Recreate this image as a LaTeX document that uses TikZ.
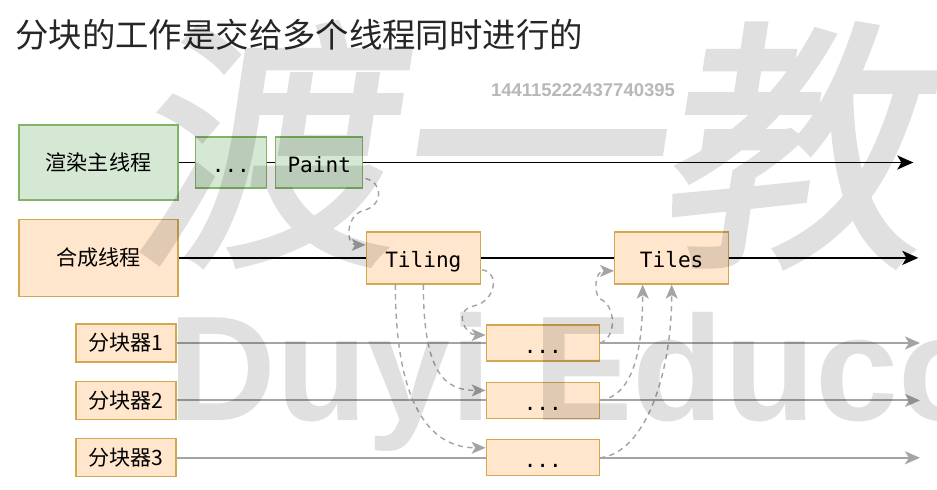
\documentclass[tikz,border=0pt]{standalone}
\usepackage{fontspec}
\setmainfont{Noto Sans CJK SC}
\setmonofont{DejaVu Sans Mono}
\newfontfamily\numfont{Liberation Sans}
\newfontfamily\markfont{Noto Sans CJK SC}[FakeBold=2, FakeSlant=0.15]
\usepackage{xcolor}
\usepackage{tikz}
\usetikzlibrary{positioning, arrows.meta, calc}
\definecolor{greenfill}{HTML}{D5E8D4}
\definecolor{greenline}{HTML}{82B366}
\definecolor{orangefill}{HTML}{FFE6CC}
\definecolor{orangeline}{HTML}{D4A84F}
\definecolor{flowgray}{HTML}{A4A4A4}
\tikzstyle{greenbox} = [rectangle, draw=greenline, fill=greenfill, line width=0.8pt, inner sep=0pt, font=\fontsize{12}{14}\selectfont]
\tikzstyle{orangebox} = [rectangle, draw=orangeline, fill=orangefill, line width=0.8pt, inner sep=0pt, font=\fontsize{12}{14}\selectfont]
\tikzstyle{arrow} = [line width=1.1pt, -{Stealth[length=0.32cm, width=0.28cm, inset=0.08cm]}]

\begin{document}
\begin{tikzpicture}[
    x=0.02cm, y=-0.02cm,
    thread/.style={minimum width=3.18cm, minimum height=1.5cm},
    codebox/.style={font=\ttfamily\fontsize{12}{14}\selectfont, text height=0.4cm, text depth=0pt, minimum height=1.02cm},
    splitbox/.style={orangebox, minimum width=2cm, minimum height=0.76cm},
    workbox/.style={orangebox, codebox, minimum width=2.26cm, minimum height=0.72cm},
    line/.style={line width=1.1pt},
    grayline/.style={line width=1.1pt, draw=flowgray},
    grayarrow/.style={grayline, -{Stealth[length=0.3cm, width=0.26cm, inset=0.08cm]}, flowgray},
    flow/.style={draw=flowgray, line width=0.8pt, dash pattern=on 3pt off 2.5pt, -{Stealth[length=0.28cm, width=0.24cm, inset=0.07cm]}, flowgray}
]
    \useasboundingbox[fill=white] (0,0) rectangle (937,490);

    % Title and serial
    \node[anchor=west, inner sep=0pt, text=black!85, font=\fontsize{19}{22}\selectfont] (title) at (15,35) {分块的工作是交给多个线程同时进行的};
    \node[inner sep=0pt, text=black!28, font=\numfont\bfseries\fontsize{10.5}{12}\selectfont] (serial) at (583,90) {144115222437740395};

    % Main thread row
    \node[greenbox, thread] (main) at (98.5,162.5) {渲染主线程};
    \node[greenbox, codebox, minimum width=1.42cm, right=0.32cm of main] (dots) {...};
    \node[greenbox, codebox, minimum width=1.74cm, right=0.16cm of dots] (paint) {Paint};
    \coordinate[right=11cm of paint] (mainend);

    % Compositor thread row
    \node[orangebox, thread, minimum height=1.54cm, below=0.36cm of main] (compose) {合成线程};
    \node[orangebox, codebox, minimum width=2.28cm, minimum height=1.04cm, right=3.74cm of compose] (tiling) {Tiling};
    \node[orangebox, codebox, minimum width=2.28cm, minimum height=1.04cm, right=2.66cm of tiling] (tiles) {Tiles};
    \coordinate[right=3.78cm of tiles] (composeend);

    % Tiler threads
    \node[splitbox] (split1) at (126,343) {分块器1};
    \node[splitbox, below=0.36cm of split1] (split2) {分块器2};
    \node[splitbox, below=0.36cm of split2] (split3) {分块器3};
    \node[workbox, right=6.18cm of split1] (work1) {...};
    \node[workbox, right=6.18cm of split2] (work2) {...};
    \node[workbox, right=6.18cm of split3] (work3) {...};
    \coordinate[right=6.4cm of work1] (end1);
    \coordinate[right=6.4cm of work2] (end2);
    \coordinate[right=6.4cm of work3] (end3);

    % Thread lines
    \draw[line] (main) -- (dots);
    \draw[line] (dots) -- (paint);
    \draw[arrow] (paint) -- (mainend);
    \draw[line] (compose) -- (tiling);
    \draw[line] (tiling) -- (tiles);
    \draw[arrow] (tiles) -- (composeend);
    \draw[grayline] (split1) -- (work1);
    \draw[grayline] (split2) -- (work2);
    \draw[grayline] (split3) -- (work3);
    \draw[grayarrow] (work1) -- (end1);
    \draw[grayarrow] (work2) -- (end2);
    \draw[grayarrow] (work3) -- (end3);

    % Hand-over between threads
    \draw[flow] ($(paint.east)+(2,16)$) .. controls +(18,4) and +(20,-5) .. ++(-2,32) .. controls +(-18,5) and +(-20,0) .. ($(tiling.west)+(0,-13)$);
    \draw[flow] ($(tiling.east)+(1,12)$) .. controls +(18,2) and +(22,-5) .. ++(-8,36) .. controls +(-22,5) and +(-20,0) .. ($(work1.west)+(0,-8)$);
    \draw[flow] (tiling.south) .. controls +(0,90) and +(-40,0) .. ($(work2.west)+(0,-10)$);
    \draw[flow] ($(tiling.south)+(-28,0)$) .. controls +(0,130) and +(-50,0) .. ($(work3.west)+(0,-10)$);
    \draw[flow] (work1.east) .. controls +(18,-6) and +(15,5) .. ++(0,-44) .. controls +(-6,-4) and +(-20,0) .. ($(tiles.west)+(0,13)$);
    \draw[flow] (work2.east) .. controls +(35,-5) and +(0,60) .. ($(tiles.south)+(-29,0)$);
    \draw[flow] (work3.east) .. controls +(45,-5) and +(0,90) .. (tiles.south);

    % Watermark
    \begin{scope}[transparency group, opacity=0.12]
        \node[anchor=west, inner sep=0pt, text=black, font=\markfont\fontsize{150}{150}\selectfont] (mark) at (130,145) {渡一教};
        \node[anchor=base west, inner sep=0pt, text=black, font=\numfont\bfseries\fontsize{85}{85}\selectfont] (brand) at (168,420) {Duyi Educo};
    \end{scope}

\end{tikzpicture}
\end{document}
